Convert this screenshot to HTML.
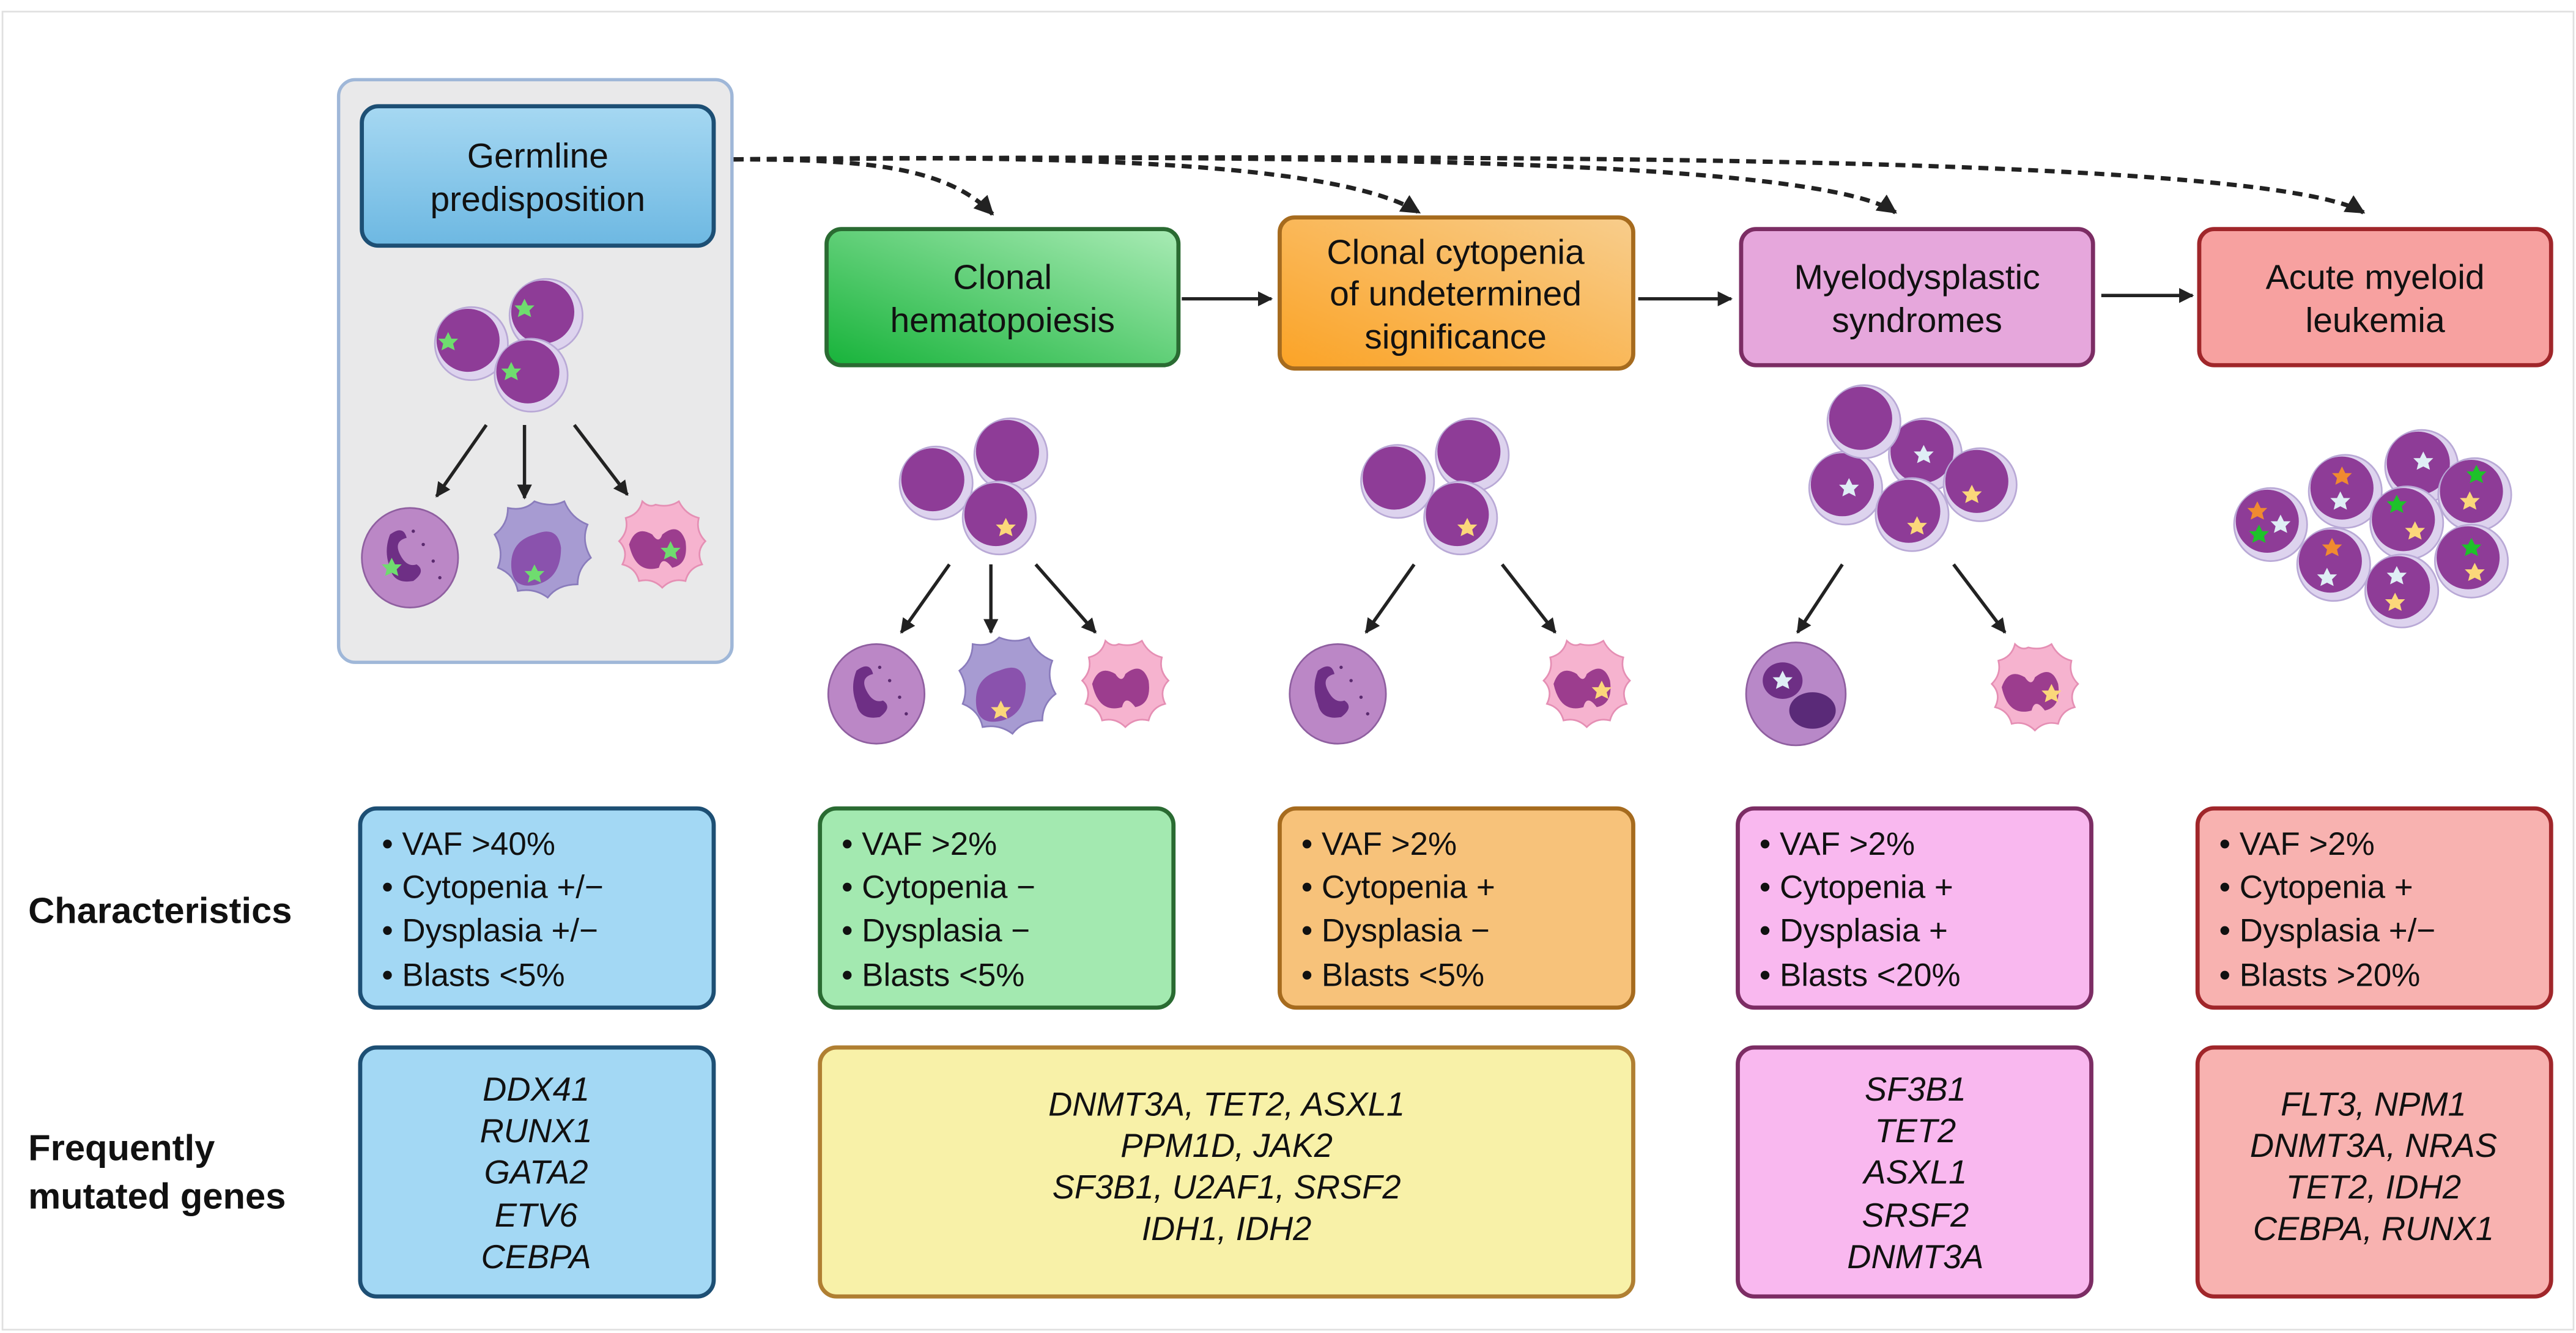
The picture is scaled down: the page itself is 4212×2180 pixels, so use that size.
<!DOCTYPE html>
<html><head><meta charset="utf-8"><style>
html,body{margin:0;padding:0;background:#fff}
svg{display:block}
text{font-family:"Liberation Sans Narrow","Liberation Sans",sans-serif;fill:#111}
.t{font-size:21px;text-anchor:middle}
.c{font-size:19.5px}
.g{font-size:20px;font-style:italic;text-anchor:middle}
.l{font-size:22px;font-weight:bold}
</style></head><body>
<svg width="4212" height="2180" viewBox="0 0 1552 803" preserveAspectRatio="none" xmlns="http://www.w3.org/2000/svg">
<defs>
<linearGradient id="gb" x1="0" y1="0" x2="0" y2="1"><stop offset="0" stop-color="#a6d8f2"/><stop offset="1" stop-color="#6db8e2"/></linearGradient>
<linearGradient id="gg" x1="0" y1="1" x2="1" y2="0"><stop offset="0" stop-color="#17b33a"/><stop offset="1" stop-color="#a9ebb5"/></linearGradient>
<linearGradient id="go" x1="0" y1="1" x2="1" y2="0"><stop offset="0" stop-color="#fba326"/><stop offset="1" stop-color="#f8cd8c"/></linearGradient>
<marker id="ah" viewBox="0 0 10 10" refX="9" refY="5" markerWidth="4.5" markerHeight="4.5" orient="auto"><path d="M0,0 L10,5 L0,10 z" fill="#222"/></marker>
<g id="bl"><circle r="22" fill="#ddd3ee" stroke="#b9a9d6" stroke-width="1"/><circle cx="-2" cy="-2" r="19" fill="#8e3c97"/></g>
<g id="mono"><ellipse rx="29" ry="30" fill="#bb87c6" stroke="#8f5fa0" stroke-width="1"/><path d="M-12,-14 q8,-6 10,2 q-8,2 -4,10 q4,8 10,6 q6,4 -2,10 q-12,2 -14,-8 q-4,-10 0,-20z" fill="#6e2f85"/><circle cx="8" cy="-8" r="1" fill="#5a2a6e"/><circle cx="14" cy="2" r="1" fill="#5a2a6e"/><circle cx="2" cy="-16" r="1" fill="#5a2a6e"/><circle cx="18" cy="12" r="1" fill="#5a2a6e"/></g>
<g id="lym"><path d="M0,-34 q10,4 18,0 q4,10 14,14 q-4,10 2,20 q-8,6 -8,16 q-12,0 -18,8 q-8,-6 -18,-4 q-2,-10 -12,-14 q4,-10 -2,-20 q8,-6 8,-16 q10,2 16,-4z" fill="#a79bd2" stroke="#8a7cbc" stroke-width="1"/><path d="M-14,4 q0,-14 14,-18 q14,-6 16,8 q0,18 -14,22 q-16,4 -16,-12z" fill="#8a52ad"/></g>
<g id="gran"><path d="M0,-30 q8,2 14,-2 q4,8 12,10 q-2,8 4,14 q-6,6 -2,14 q-8,2 -10,10 q-8,-2 -14,4 q-6,-6 -14,-4 q-2,-8 -10,-10 q4,-8 -2,-14 q6,-6 4,-14 q8,-2 10,-10 q4,4 8,2z" fill="#f6b3cf" stroke="#e58fb4" stroke-width="1"/><path d="M-16,-6 q4,-12 14,-6 q4,6 6,0 q10,-8 14,4 q2,14 -8,16 q-6,-8 -8,0 q-14,4 -18,-14z" fill="#9c3d8e"/></g>
<g id="sg"><path d="M0,-6 L2,-2 6,-2 3,1 4,5 0,3 -4,5 -3,1 -6,-2 -2,-2z" fill="#6fdc6f"/></g>
<g id="sy"><path d="M0,-6 L2,-2 6,-2 3,1 4,5 0,3 -4,5 -3,1 -6,-2 -2,-2z" fill="#fbd77a"/></g>
<g id="sw"><path d="M0,-6 L2,-2 6,-2 3,1 4,5 0,3 -4,5 -3,1 -6,-2 -2,-2z" fill="#dfeef5"/></g>
<g id="so"><path d="M0,-6 L2,-2 6,-2 3,1 4,5 0,3 -4,5 -3,1 -6,-2 -2,-2z" fill="#f08a30"/></g>
<g id="sG"><path d="M0,-6 L2,-2 6,-2 3,1 4,5 0,3 -4,5 -3,1 -6,-2 -2,-2z" fill="#1ec22a"/></g>
</defs>
<rect x="1.5" y="7" width="1549" height="794" fill="none" stroke="#e0e0e0" stroke-width="1"/>

<!-- germline panel -->
<rect x="204" y="48" width="237" height="351" rx="10" fill="#e9e9ea" stroke="#9fb7d8" stroke-width="2"/>
<rect x="218" y="64" width="212" height="84" rx="10" fill="url(#gb)" stroke="#1d4f74" stroke-width="2.5"/>
<text class="t" x="324" y="101">Germline</text><text class="t" x="324" y="127">predisposition</text>

<!-- top boxes -->
<rect x="498" y="138" width="212" height="82" rx="9" fill="url(#gg)" stroke="#2a6b32" stroke-width="2.5"/>
<text class="t" x="604" y="174">Clonal</text><text class="t" x="604" y="200">hematopoiesis</text>
<rect x="771" y="131" width="213" height="91" rx="9" fill="url(#go)" stroke="#a66b1e" stroke-width="2.5"/>
<text class="t" x="877" y="159">Clonal cytopenia</text><text class="t" x="877" y="184">of undetermined</text><text class="t" x="877" y="210">significance</text>
<rect x="1049" y="138" width="212" height="82" rx="9" fill="#e6a7dc" stroke="#7c2d64" stroke-width="2.5"/>
<text class="t" x="1155" y="174">Myelodysplastic</text><text class="t" x="1155" y="200">syndromes</text>
<rect x="1325" y="138" width="212" height="82" rx="9" fill="#f7a1a0" stroke="#a0262a" stroke-width="2.5"/>
<text class="t" x="1431" y="174">Acute myeloid</text><text class="t" x="1431" y="200">leukemia</text>

<!-- solid arrows -->
<g stroke="#222" stroke-width="2" marker-end="url(#ah)">
<line x1="712" y1="180" x2="766" y2="180"/>
<line x1="987" y1="180" x2="1043" y2="180"/>
<line x1="1266" y1="178" x2="1321" y2="178"/>
</g>
<!-- dashed -->
<g stroke="#222" stroke-width="2.6" stroke-dasharray="6,4" fill="none" marker-end="url(#ah)">
<path d="M442,96 C520,96 570,100 598,129"/>
<path d="M442,96 C600,94 800,94 855,128"/>
<path d="M442,96 C700,94 1090,92 1142,128"/>
<path d="M442,96 C800,94 1360,90 1424,128"/>
</g>

<!-- germline cells -->
<use href="#bl" x="329" y="190"/><use href="#bl" x="284" y="207"/><use href="#bl" x="320" y="226"/>
<use href="#sg" x="316" y="186"/><use href="#sg" x="270" y="206"/><use href="#sg" x="308" y="224"/>
<g stroke="#222" stroke-width="2" marker-end="url(#ah)">
<line x1="293" y1="256" x2="263" y2="299"/><line x1="316" y1="256" x2="316" y2="300"/><line x1="346" y1="256" x2="378" y2="298"/>
</g>
<use href="#mono" x="247" y="336"/><use href="#sg" x="236" y="342"/>
<use href="#lym" x="322" y="336"/><use href="#sg" x="322" y="346"/>
<use href="#gran" x="395" y="334"/><use href="#sg" x="404" y="332"/>

<!-- CH cells -->
<use href="#bl" x="564" y="291"/><use href="#bl" x="609" y="274"/><use href="#bl" x="602" y="312"/>
<use href="#sy" x="606" y="318"/>
<g stroke="#222" stroke-width="2" marker-end="url(#ah)">
<line x1="572" y1="340" x2="543" y2="381"/><line x1="597" y1="340" x2="597" y2="381"/><line x1="624" y1="340" x2="660" y2="381"/>
</g>
<use href="#mono" x="528" y="418"/>
<use href="#lym" x="602" y="418"/><use href="#sy" x="603" y="428"/>
<use href="#gran" x="674" y="418"/>

<!-- CCUS cells -->
<use href="#bl" x="842" y="290"/><use href="#bl" x="887" y="274"/><use href="#bl" x="880" y="312"/>
<use href="#sy" x="884" y="318"/>
<g stroke="#222" stroke-width="2" marker-end="url(#ah)">
<line x1="852" y1="340" x2="823" y2="381"/><line x1="905" y1="340" x2="937" y2="381"/>
</g>
<use href="#mono" x="806" y="418"/>
<use href="#gran" x="952" y="418"/><use href="#sy" x="965" y="416"/>

<!-- MDS cells -->
<use href="#bl" x="1112" y="294"/><use href="#bl" x="1160" y="274"/><use href="#bl" x="1193" y="292"/><use href="#bl" x="1152" y="310"/><use href="#bl" x="1123" y="254"/>
<use href="#sw" x="1114" y="294"/><use href="#sw" x="1159" y="274"/><use href="#sy" x="1188" y="298"/><use href="#sy" x="1155" y="317"/>
<g stroke="#222" stroke-width="2" marker-end="url(#ah)">
<line x1="1110" y1="340" x2="1083" y2="381"/><line x1="1177" y1="340" x2="1208" y2="381"/>
</g>
<g transform="translate(1082,418)"><ellipse rx="30" ry="31" fill="#b888c8" stroke="#8f5fa0"/><ellipse cx="-8" cy="-8" rx="12" ry="11" fill="#6e2f85"/><ellipse cx="10" cy="10" rx="14" ry="11" fill="#5a2a78"/></g>
<use href="#sw" x="1074" y="410"/>
<use href="#gran" x="1222" y="420"/><use href="#sy" x="1236" y="418"/>

<!-- AML cells -->
<use href="#bl" x="1368" y="316"/><use href="#bl" x="1413" y="296"/><use href="#bl" x="1459" y="281"/><use href="#bl" x="1491" y="298"/>
<use href="#bl" x="1450" y="315"/><use href="#bl" x="1406" y="340"/><use href="#bl" x="1489" y="338"/><use href="#bl" x="1447" y="356"/>
<use href="#so" x="1360" y="308"/><use href="#sw" x="1374" y="316"/><use href="#sG" x="1361" y="322"/>
<use href="#so" x="1411" y="287"/><use href="#sw" x="1410" y="302"/>
<use href="#sw" x="1460" y="278"/><use href="#sG" x="1492" y="286"/><use href="#sy" x="1488" y="302"/>
<use href="#sG" x="1444" y="304"/><use href="#sy" x="1455" y="320"/>
<use href="#so" x="1405" y="330"/><use href="#sw" x="1402" y="348"/>
<use href="#sG" x="1489" y="330"/><use href="#sy" x="1491" y="345"/>
<use href="#sw" x="1444" y="347"/><use href="#sy" x="1443" y="363"/>

<!-- labels -->
<text class="l" x="17" y="556">Characteristics</text>
<text class="l" x="17" y="699">Frequently</text>
<text class="l" x="17" y="728">mutated genes</text>

<!-- characteristics -->
<rect x="217" y="487" width="213" height="120" rx="10" fill="#a3d8f4" stroke="#1d4f74" stroke-width="2.5"/>
<text class="c" x="230" y="515">• VAF &gt;40%</text><text class="c" x="230" y="541">• Cytopenia +/−</text><text class="c" x="230" y="567">• Dysplasia +/−</text><text class="c" x="230" y="594">• Blasts &lt;5%</text>
<rect x="494" y="487" width="213" height="120" rx="10" fill="#a3e9b0" stroke="#2a6b32" stroke-width="2.5"/>
<text class="c" x="507" y="515">• VAF &gt;2%</text><text class="c" x="507" y="541">• Cytopenia −</text><text class="c" x="507" y="567">• Dysplasia −</text><text class="c" x="507" y="594">• Blasts &lt;5%</text>
<rect x="771" y="487" width="213" height="120" rx="10" fill="#f7c27a" stroke="#a66b1e" stroke-width="2.5"/>
<text class="c" x="784" y="515">• VAF &gt;2%</text><text class="c" x="784" y="541">• Cytopenia +</text><text class="c" x="784" y="567">• Dysplasia −</text><text class="c" x="784" y="594">• Blasts &lt;5%</text>
<rect x="1047" y="487" width="213" height="120" rx="10" fill="#f9b8ef" stroke="#7c2d64" stroke-width="2.5"/>
<text class="c" x="1060" y="515">• VAF &gt;2%</text><text class="c" x="1060" y="541">• Cytopenia +</text><text class="c" x="1060" y="567">• Dysplasia +</text><text class="c" x="1060" y="594">• Blasts &lt;20%</text>
<rect x="1324" y="487" width="213" height="120" rx="10" fill="#f8b2b0" stroke="#a0262a" stroke-width="2.5"/>
<text class="c" x="1337" y="515">• VAF &gt;2%</text><text class="c" x="1337" y="541">• Cytopenia +</text><text class="c" x="1337" y="567">• Dysplasia +/−</text><text class="c" x="1337" y="594">• Blasts &gt;20%</text>

<!-- genes -->
<rect x="217" y="631" width="213" height="150" rx="10" fill="#a3d8f4" stroke="#1d4f74" stroke-width="2.5"/>
<text class="g" x="323" y="663">DDX41</text><text class="g" x="323" y="688">RUNX1</text><text class="g" x="323" y="713">GATA2</text><text class="g" x="323" y="739">ETV6</text><text class="g" x="323" y="764">CEBPA</text>
<rect x="494" y="631" width="490" height="150" rx="10" fill="#f8f1a8" stroke="#b07f32" stroke-width="2.5"/>
<text class="g" x="739" y="672">DNMT3A, TET2, ASXL1</text><text class="g" x="739" y="697">PPM1D, JAK2</text><text class="g" x="739" y="722">SF3B1, U2AF1, SRSF2</text><text class="g" x="739" y="747">IDH1, IDH2</text>
<rect x="1047" y="631" width="213" height="150" rx="10" fill="#f9b8ef" stroke="#7c2d64" stroke-width="2.5"/>
<text class="g" x="1154" y="663">SF3B1</text><text class="g" x="1154" y="688">TET2</text><text class="g" x="1154" y="713">ASXL1</text><text class="g" x="1154" y="739">SRSF2</text><text class="g" x="1154" y="764">DNMT3A</text>
<rect x="1324" y="631" width="213" height="150" rx="10" fill="#f8b2b0" stroke="#a0262a" stroke-width="2.5"/>
<text class="g" x="1430" y="672">FLT3, NPM1</text><text class="g" x="1430" y="697">DNMT3A, NRAS</text><text class="g" x="1430" y="722">TET2, IDH2</text><text class="g" x="1430" y="747">CEBPA, RUNX1</text>
</svg>
</body></html>
